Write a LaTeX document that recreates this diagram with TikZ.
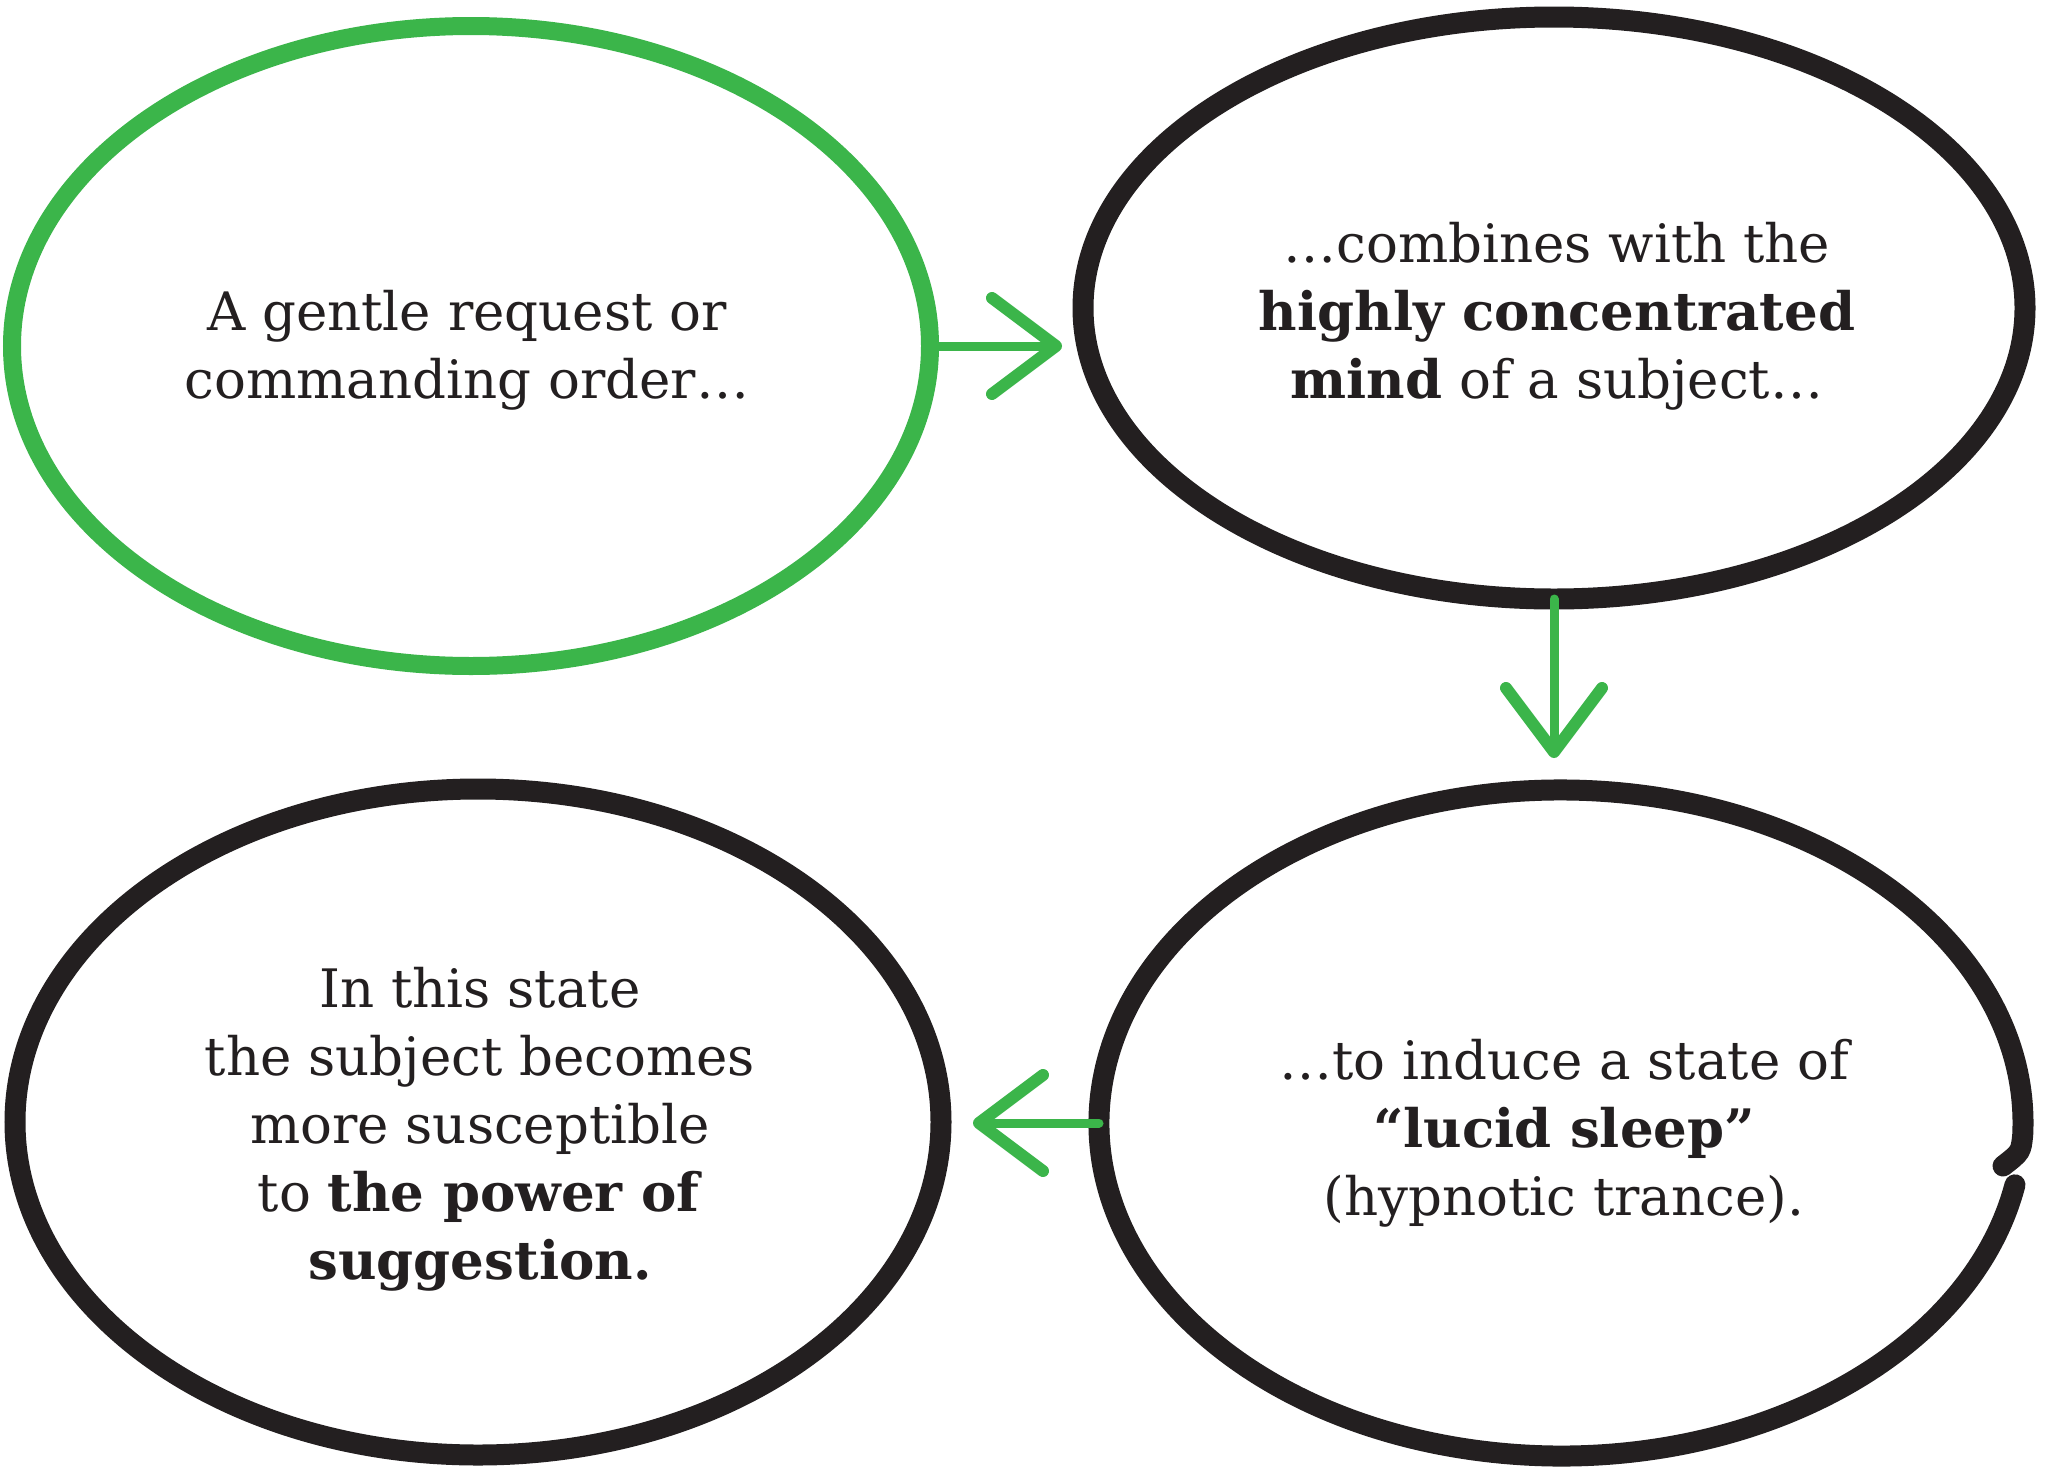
\documentclass[tikz,border=0pt]{standalone}
\usepackage{fontspec}
\setmainfont{DejaVu Serif}
\usetikzlibrary{shapes.geometric,arrows.meta,calc}
\definecolor{hgreen}{HTML}{3BB54A}
\definecolor{hblack}{HTML}{231F20}
\begin{document}
\begin{tikzpicture}[x=1pt,y=-1pt,
  oval/.style={ellipse, inner sep=0pt, outer sep=0pt},
  ring/.style={line width=21pt, draw=hblack},
  gring/.style={line width=18pt, draw=hgreen},
  link/.style={draw=hgreen, line width=9pt, line cap=round,
    -{Straight Barb[length=64pt, width=96pt, line width=12pt, round]}},
  txt/.style={align=center, text=hblack, font=\fontsize{53}{68}\selectfont, inner sep=0pt}]
\fill[white] (0,0) rectangle (2048,1467);
\useasboundingbox (0,0) rectangle (2048,1467);
% ovals
\node[oval, gring, minimum width=918pt, minimum height=640pt] (e1) at (471,346) {};
\node[oval, ring, minimum width=942pt, minimum height=582pt] (e2) at (1554,308) {};
\node[oval, ring, minimum width=926pt, minimum height=666pt] (e3) at (478,1122) {};
\node[oval, minimum width=924pt, minimum height=666pt] (e4) at (1561,1123) {};
\draw[line width=21pt, hblack, line cap=round]
  (e4.center) ++(10.7:462 and 333)
  arc[start angle=10.7, end angle=362, x radius=462, y radius=333]
  .. controls (2021,1152) .. (2003,1166);
% texts
\node[txt] (t1) at (467,350) {A gentle request or\\commanding order\ldots};
\node[txt] (t2) at (1557,316) {\ldots combines with the\\\textbf{highly concentrated}\\\textbf{mind} of a subject\ldots};
\node[txt] (t3) at (480,1129) {In this state\\the subject becomes\\more susceptible\\to \textbf{the power of}\\\textbf{suggestion.}};
\node[txt] (t4) at (1564,1133) {\ldots to induce a state of\\\textbf{“lucid sleep”}\\(hypnotic trance).};
% connectors
\draw[link, shorten >=21pt] (e1.east) -- (e1.east -| e2.west);
\draw[link, shorten >=32pt] (e2.south) -- (e2.south |- e4.north);
\draw[link, shorten >=32pt] (e4.west) -- (e4.west -| e3.east);
\end{tikzpicture}
\end{document}
